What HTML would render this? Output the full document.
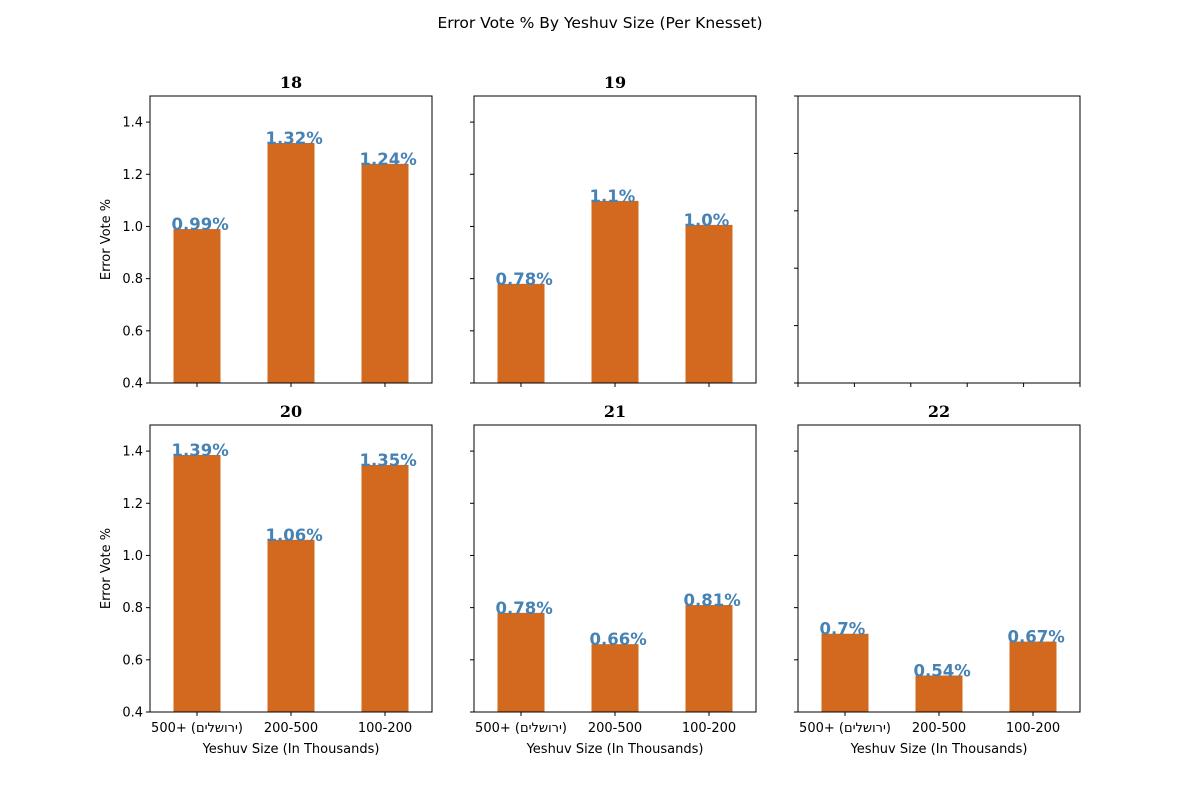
<!DOCTYPE html>
<html><head><meta charset="utf-8">
<style>
html,body{margin:0;padding:0;background:#fff;}
svg{display:block;font-family:"DejaVu Sans","Liberation Sans","Noto Sans CJK SC",sans-serif;}
</style></head>
<body>
<svg id="chart" width="1200" height="800" viewBox="0 0 1200 800" xmlns="http://www.w3.org/2000/svg">
<rect width="1200" height="800" fill="#fff"/>
<text x="600" y="28" text-anchor="middle" font-size="15.5" fill="#000">Error Vote % By Yeshuv Size (Per Knesset)</text>
</svg>
<script>
const categories = ["\u202D500+ (םילשורי)\u202C", "200-500", "100-200"];
const knessets = ["18", "19", "20", "21", "22"];
const values18 = [0.99, 1.32, 1.24];
const values19 = [0.78, 1.098, 1.006];
const values20 = [1.385, 1.06, 1.347];
const values21 = [0.78, 0.66, 0.81];
const values22 = [0.70, 0.54, 0.67];
const labels18 = ["0.99%", "1.32%", "1.24%"];
const labels19 = ["0.78%", "1.1%", "1.0%"];
const labels20 = ["1.39%", "1.06%", "1.35%"];
const labels21 = ["0.78%", "0.66%", "0.81%"];
const labels22 = ["0.7%", "0.54%", "0.67%"];
const yTicks = [0.4, 0.6, 0.8, 1.0, 1.2, 1.4];
const emptyTicks = [0, 0.2, 0.4, 0.6, 0.8, 1.0];

const NS = "http://www.w3.org/2000/svg";
const svg = document.getElementById("chart");
function mk(tag, attrs, parent) {
  const e = document.createElementNS(NS, tag);
  for (const k in attrs) e.setAttribute(k, attrs[k]);
  (parent || svg).appendChild(e);
  return e;
}
const colX = [150, 474, 798], rowY = [96, 425], W = 282, H = 287;
const yMin = 0.4, yMax = 1.5;

const panels = [
  {k: 0, col: 0, row: 0, vals: values18, labs: labels18},
  {k: 1, col: 1, row: 0, vals: values19, labs: labels19},
  {k: 2, col: 0, row: 1, vals: values20, labs: labels20},
  {k: 3, col: 1, row: 1, vals: values21, labs: labels21},
  {k: 4, col: 2, row: 1, vals: values22, labs: labels22}
];

panels.forEach(p => {
  const x0 = colX[p.col], y0 = rowY[p.row];
  const g = mk("g", {});
  
  
  const xs = v => x0 + (v + 0.5) / 3 * W;
  const ys = v => y0 + H - (v - yMin) / (yMax - yMin) * H;
  p.vals.forEach((v, i) => {
    const r = mk("rect", {x: xs(i - 0.25), y: ys(v), width: W / 3 * 0.5, height: ys(yMin) - ys(v), fill: "#d2691e"}, g);
    
    
    const t = mk("text", {x: xs(i - 0.25) - 2, y: ys(v) + 1, fill: "#4682b4", "font-size": "16.5", "font-weight": "bold"}, g);
    t.textContent = p.labs[i];
    
    
  });
  mk("rect", {x: x0, y: y0, width: W, height: H, fill: "none", stroke: "#000", "stroke-width": 1}, g);
  yTicks.forEach(v => {
    mk("line", {x1: x0 - 4, x2: x0, y1: ys(v), y2: ys(v), stroke: "#000"}, g);
    if (p.col === 0) {
      const t = mk("text", {x: x0 - 7, y: ys(v) + 4.5, "text-anchor": "end", "font-size": "13"}, g);
      t.textContent = v.toFixed(1);
      
      
    }
  });
  categories.forEach((c, i) => {
    mk("line", {x1: xs(i), x2: xs(i), y1: y0 + H, y2: y0 + H + 4, stroke: "#000"}, g);
    if (p.row === 1) {
      const t = mk("text", {x: xs(i), y: y0 + H + 20, "text-anchor": "middle", "font-size": "13"}, g);
      t.textContent = c;
      
      
    }
  });
  const tt = mk("text", {x: x0 + W / 2, y: y0 - 8, "text-anchor": "middle", "font-size": "16", "font-weight": "bold", "font-family": "DejaVu Serif, Liberation Serif, serif"}, g);
  tt.textContent = knessets[p.k];
  
  
  if (p.row === 1) {
    const xl = mk("text", {x: x0 + W / 2, y: y0 + H + 41, "text-anchor": "middle", "font-size": "13"}, g);
    xl.textContent = "Yeshuv Size (In Thousands)";
    
    
  }
  if (p.col === 0) {
    const yl = mk("text", {x: 0, y: 0, "text-anchor": "middle", "font-size": "13", transform: "translate(110," + (y0 + H / 2) + ") rotate(-90)"}, g);
    yl.textContent = "Error Vote %";
    
    
  }
});

// empty panel
(function () {
  const x0 = colX[2], y0 = rowY[0];
  const g = mk("g", {});
  
  
  mk("rect", {x: x0, y: y0, width: W, height: H, fill: "none", stroke: "#000"}, g);
  emptyTicks.forEach(v => {
    const px = x0 + v * W, py = y0 + H - v * H;
    mk("line", {x1: px, x2: px, y1: y0 + H, y2: y0 + H + 4, stroke: "#000"}, g);
    mk("line", {x1: x0 - 4, x2: x0, y1: py, y2: py, stroke: "#000"}, g);
  });
})();
</script>
</body></html>
